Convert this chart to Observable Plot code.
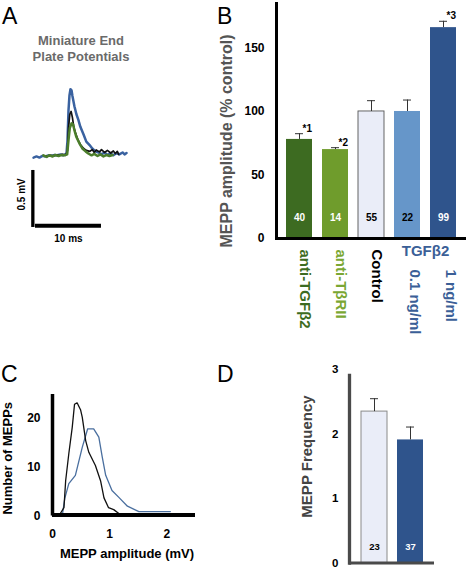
<!DOCTYPE html>
<html><head><meta charset="utf-8">
<script src="https://cdn.jsdelivr.net/npm/d3@7"></script>
<script src="https://cdn.jsdelivr.net/npm/@observablehq/plot@0.6"></script>
<style>
html,body{margin:0;padding:0;background:#fff;}
#fig{position:relative;width:472px;height:568px;overflow:hidden;font-family:"Liberation Sans",Arial,Helvetica,sans-serif;}
.letter{position:absolute;font-size:23px;line-height:23px;color:#000;}
.atitle{position:absolute;left:20px;top:33px;width:122px;text-align:center;font-size:13px;line-height:16px;font-weight:bold;color:#6a6a6a;}
.pw{position:absolute;}
</style></head><body><div id="fig"></div>
<script>
// ---------- Panel A: example MEPP traces [time ms, mV] ----------
const traceBlue = [[0,-0.01],[0.45,0],[0.9,-0.01],[1.36,0.005],[1.8,0],[2.27,0.01],[2.7,0.005],[3.2,0.013],[3.6,0.01],[4.1,0.018],[4.5,0.01],[5.0,0.026],[5.15,0.14],[5.3,0.40],[5.45,0.535],[5.6,0.59],[5.76,0.58],[5.9,0.53],[6.2,0.44],[6.5,0.37],[6.8,0.32],[7.1,0.26],[7.6,0.19],[8.0,0.13],[8.5,0.10],[8.9,0.07],[9.4,0.044],[9.85,0.035],[10.3,0.018],[10.76,0.035],[11.2,0.013],[11.67,0.026],[12.1,0.01],[12.6,0.03],[13.0,0.018],[13.5,0.035],[13.8,0.018],[14.1,0.03]];
const traceBlack = [[1.7,0.005],[2.1,0],[2.6,0.01],[3.0,0.005],[3.5,0.013],[3.9,0.01],[4.4,0.018],[4.85,0.01],[5.15,0.05],[5.3,0.25],[5.5,0.37],[5.7,0.395],[5.9,0.34],[6.1,0.26],[6.4,0.20],[6.7,0.15],[7.1,0.105],[7.6,0.07],[8.0,0.053],[8.5,0.044],[8.9,0.06],[9.2,0.035],[9.5,0.057],[10.0,0.04],[10.3,0.06],[10.76,0.035],[11.2,0.053],[11.7,0.03],[12.1,0.048],[12.4,0.026],[12.7,0.044],[12.9,0.018]];
const traceGreen = [[1.5,0.01],[2.0,-0.004],[2.4,0.01],[2.9,0],[3.3,0.013],[3.8,0.004],[4.2,0.013],[4.7,0.01],[5.1,0.018],[5.3,0.14],[5.5,0.25],[5.76,0.29],[6.0,0.28],[6.2,0.23],[6.5,0.17],[7.0,0.11],[7.4,0.07],[7.9,0.044],[8.3,0.026],[8.8,0.01],[9.2,0.022],[9.7,0.004],[10.15,0.018],[10.6,0],[11.1,0.013],[11.5,0.004],[12.0,0.013]];
const scaleBarMV = 0.5;
const scaleBarMS = 10;
const titleA = ["Miniature End", "Plate Potentials"];

// ---------- Panel B: MEPP amplitude (% control) ----------
const ampCats = ["anti-TGFβ2", "anti-TβRII", "Control", "0.1 ng/ml", "1 ng/ml"];
const ampMean = [78, 70, 100, 100, 166];
const ampErr = [4.5, 1.5, 8.5, 9, 5];
const ampN = [40, 14, 55, 22, 99];
const ampSig = ["*1", "*2", "", "", "*3"];
const ampGroup = ["", "", "", "TGFβ2", "TGFβ2"];
const ampTicks = [0, 50, 100, 150];
const ampTitle = "MEPP amplitude (% control)";

// ---------- Panel C: amplitude histograms [mV, count] ----------
const histControl = [[0.11,0],[0.20,1.7],[0.23,7.2],[0.285,12.7],[0.345,18.1],[0.385,22.8],[0.43,23.1],[0.49,21.7],[0.52,20.2],[0.58,15.4],[0.635,13.0],[0.75,10.3],[0.84,7.2],[0.90,3.7],[0.98,1.7],[1.07,1.3],[1.16,0.5],[1.22,0]];
const histTGF = [[0.17,0],[0.215,3.6],[0.285,6.6],[0.40,8.3],[0.52,14.0],[0.615,17.8],[0.72,17.8],[0.81,16.1],[0.87,12.0],[0.93,8.3],[1.04,5.2],[1.16,3.8],[1.31,2.0],[1.51,0.9],[2.06,0.9]];
const histXTicks = [0, 1, 2];
const histYTicks = [0, 10, 20];

// ---------- Panel D: MEPP frequency ----------
const freqCats = ["Control", "TGFβ2"];
const freqMean = [2.35, 1.91];
const freqErr = [0.2, 0.2];
const freqN = [23, 37];
const freqTicks = [0, 1, 2, 3];

// ---------- styles ----------
const FONT = "'Liberation Sans', Arial, Helvetica, sans-serif";
const baseStyle = {fontFamily: FONT, fontSize: "12px", fontWeight: "bold", color: "#000", background: "none", overflow: "visible"};
const barFill = {"anti-TGFβ2": "#3d6b21", "anti-TβRII": "#6f9c2c", "Control": "#eaedf8", "0.1 ng/ml": "#6696c9", "1 ng/ml": "#2f548c", "TGFβ2": "#2f548c"};
const barStroke = {"Control": "#555"};
const nFill = {"anti-TGFβ2": "#fff", "anti-TβRII": "#fff", "Control": "#000", "0.1 ng/ml": "#000", "1 ng/ml": "#fff", "TGFβ2": "#fff"};
const labelFill = {"anti-TGFβ2": "#3d6b21", "anti-TβRII": "#7aa733", "Control": "#000", "0.1 ng/ml": "#3b5f97", "1 ng/ml": "#3b5f97"};
const intFmt = d => String(d);

const fig = document.getElementById("fig");
function place(node, left, top) {
  const w = document.createElement("div");
  w.className = "pw"; w.style.left = left + "px"; w.style.top = top + "px";
  w.appendChild(node); fig.appendChild(w);
}
function letter(t, left, top) {
  const d = document.createElement("div");
  d.className = "letter"; d.textContent = t; d.style.left = left + "px"; d.style.top = top + "px";
  fig.appendChild(d);
}

// Panel A
const tA = document.createElement("div");
tA.className = "atitle"; tA.innerHTML = titleA.join("<br>");
fig.appendChild(tA);
const tx = d => d[0], ty = d => d[1];
const plotA = Plot.plot({
  width: 200, height: 190,
  marginLeft: 0, marginRight: 2, marginTop: 15, marginBottom: 0,
  x: {domain: [-5, 25], axis: null},
  y: {domain: [-0.825, 0.71], axis: null},
  style: baseStyle,
  marks: [
    Plot.line(traceBlue, {x: tx, y: ty, stroke: "#3a62a0", strokeWidth: 2.5}),
    Plot.line(traceBlack, {x: tx, y: ty, stroke: "#111", strokeWidth: 1.7}),
    Plot.line(traceGreen, {x: tx, y: ty, stroke: "#4b7d2b", strokeWidth: 2.5}),
    Plot.ruleX([scaleBarMV], {x: () => -0.1, y1: () => -0.123, y2: d => -0.123 - d, stroke: "#000", strokeWidth: 3.3}),
    Plot.ruleY([scaleBarMS], {y: () => -0.608, x1: () => 0.3, x2: d => 0.3 + d, stroke: "#000", strokeWidth: 4}),
    Plot.text([scaleBarMV], {x: () => -1.74, y: () => -0.123 - scaleBarMV / 2 + 0.04, text: d => d + " mV", rotate: -90, textAnchor: "middle", fontSize: 10, fontWeight: "bold"}),
    Plot.text([scaleBarMS], {x: () => 0.3 + scaleBarMS / 2, y: () => -0.72, text: d => d + " ms", textAnchor: "middle", fontSize: 10, fontWeight: "bold"})
  ]
});
place(plotA, 0, 60);

// Panel B
const ampData = ampCats.map((c, i) => ({cat: c, mean: ampMean[i], err: ampErr[i], n: ampN[i], sig: ampSig[i], group: ampGroup[i]}));
const plotB = Plot.plot({
  width: 272, height: 345,
  marginLeft: 76, marginRight: 6, marginTop: 3, marginBottom: 107,
  x: {domain: ampCats, paddingInner: 0.27, paddingOuter: 0.27, axis: null},
  y: {domain: [0, 185], axis: null},
  color: {type: "identity"},
  style: baseStyle,
  marks: [
    Plot.barY(ampData, {x: "cat", y: "mean", fill: d => barFill[d.cat], stroke: d => barStroke[d.cat] || "none", strokeWidth: 0.9}),
    Plot.ruleX(ampData, {x: "cat", y1: "mean", y2: d => d.mean + d.err, stroke: "#333", strokeWidth: 1}),
    Plot.tickY(ampData, {x: "cat", y: d => d.mean + d.err, stroke: "#333", strokeWidth: 1, insetLeft: 9, insetRight: 9}),
    Plot.text(ampData, {filter: d => d.sig, x: "cat", y: d => d.mean + d.err, text: "sig", textAnchor: "start", dx: 3, dy: -5, fontSize: 10, fontWeight: "bold"}),
    Plot.text(ampData, {x: "cat", text: "n", frameAnchor: "bottom", dy: -18, fill: d => nFill[d.cat], fontSize: 10, fontWeight: "bold"}),
    Plot.text(ampData, {filter: d => !d.group, x: "cat", text: "cat", frameAnchor: "bottom", rotate: 90, textAnchor: "start", dy: 11, fill: d => labelFill[d.cat], fontSize: 15, fontWeight: "bold"}),
    Plot.text(ampData, {filter: d => d.group, x: "cat", text: "cat", frameAnchor: "bottom", rotate: 90, textAnchor: "start", dy: 31, dx: 2, fill: d => labelFill[d.cat], fontSize: 15, fontWeight: "bold"}),
    Plot.text([ampGroup[3]], {x: () => ampCats[3], text: d => d, frameAnchor: "bottom", textAnchor: "middle", dx: 18, dy: 17, fill: "#3b5f97", fontSize: 15, fontWeight: "bold"}),
    Plot.axisY({ticks: ampTicks, tickSize: 0, tickPadding: 12, tickFormat: intFmt, fontSize: 12, fontWeight: "bold", label: null}),
    Plot.text([ampTitle], {frameAnchor: "left", textAnchor: "middle", rotate: -90, dx: -50, dy: 20, text: d => d, fill: "#555", fontSize: 16, fontWeight: "bold"}),
    Plot.ruleY([0], {stroke: "#000", strokeWidth: 3}),
    Plot.frame({anchor: "left", stroke: "#000", strokeWidth: 3})
  ]
});
place(plotB, 200, 0);

// Panel C
const plotC = Plot.plot({
  width: 236, height: 188,
  marginLeft: 52, marginRight: 41, marginTop: 14, marginBottom: 52.5,
  x: {domain: [0, 2.5]},
  y: {domain: [0, 24.8]},
  style: baseStyle,
  marks: [
    Plot.line(histTGF, {x: tx, y: ty, stroke: "#4a6f9f", strokeWidth: 1.3}),
    Plot.line(histControl, {x: tx, y: ty, stroke: "#111", strokeWidth: 1.3}),
    Plot.axisX({ticks: histXTicks, tickSize: 0, tickPadding: 13, tickFormat: intFmt, fontSize: 12, fontWeight: "bold", label: null}),
    Plot.axisY({ticks: histYTicks, tickSize: 0, tickPadding: 12, tickFormat: intFmt, fontSize: 12, fontWeight: "bold", label: null}),
    Plot.text(["MEPP amplitude (mV)"], {frameAnchor: "bottom", textAnchor: "middle", dx: 3, dy: 41.5, text: d => d, fontSize: 13, fontWeight: "bold"}),
    Plot.text(["Number of MEPPs"], {frameAnchor: "left", textAnchor: "middle", rotate: -90, dx: -45, dy: 3, text: d => d, fontSize: 13, fontWeight: "bold"}),
    Plot.ruleY([0], {stroke: "#000", strokeWidth: 4, dy: -1}),
    Plot.ruleX([0], {stroke: "#000", strokeWidth: 3.5})
  ]
});
place(plotC, 0, 380);

// Panel D
const freqData = freqCats.map((c, i) => ({cat: c, mean: freqMean[i], err: freqErr[i], n: freqN[i]}));
const plotD = Plot.plot({
  width: 236, height: 218,
  marginLeft: 113, marginRight: 38, marginTop: 25, marginBottom: 5.5,
  x: {domain: freqCats, paddingInner: 0.28, paddingOuter: 0.32, axis: null},
  y: {domain: [0, 2.91], axis: null},
  color: {type: "identity"},
  style: baseStyle,
  marks: [
    Plot.barY(freqData, {x: "cat", y: "mean", fill: d => barFill[d.cat], stroke: d => d.cat === "Control" ? "#8a8a8a" : "none", strokeWidth: 1}),
    Plot.ruleX(freqData, {x: "cat", y1: "mean", y2: d => d.mean + d.err, stroke: "#333", strokeWidth: 1}),
    Plot.tickY(freqData, {x: "cat", y: d => d.mean + d.err, stroke: "#333", strokeWidth: 1, insetLeft: 9, insetRight: 9}),
    Plot.text(freqData, {x: "cat", text: "n", frameAnchor: "bottom", dy: -13.5, fill: d => nFill[d.cat], fontSize: 9.5, fontWeight: "bold"}),
    Plot.axisY({ticks: freqTicks, tickSize: 0, tickPadding: 11, tickFormat: intFmt, fontSize: 11.5, fontWeight: "bold", label: null}),
    Plot.text(["MEPP Frequency"], {frameAnchor: "left", textAnchor: "middle", rotate: -90, dx: -42, dy: -12.75, text: d => d, fill: "#444", fontSize: 15, fontWeight: "bold"}),
    Plot.ruleY([0], {stroke: "#4a4a4a", strokeWidth: 3}),
    Plot.frame({anchor: "left", stroke: "#4a4a4a", strokeWidth: 3.3})
  ]
});
place(plotD, 236, 350);

letter("A", 2, 5);
letter("B", 217, 5);
letter("C", 1, 363);
letter("D", 217, 363);
</script>
</body></html>
